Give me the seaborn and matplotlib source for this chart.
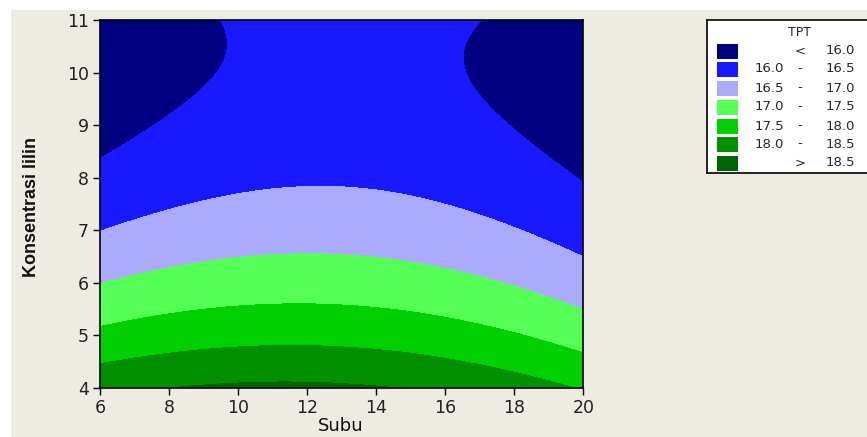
import numpy as np
import pandas as pd
import matplotlib
matplotlib.use("Agg")
import matplotlib.pyplot as plt
from matplotlib.patches import Rectangle
import seaborn as sns

subu_160 = [6.0, 6.68, 7.64, 8.61, 9.38, 9.65, 9.48,
            16.81, 16.43, 16.62, 17.3, 18.26, 19.23, 20.0]
kons_160 = [8.37, 8.65, 9.02, 9.48, 9.99, 10.62, 11.0,
            11.0, 10.37, 9.92, 9.35, 8.84, 8.40, 7.92]
subu_165 = [6.0, 7.64, 9.0, 10.06, 12.48, 14.11, 15.85, 17.78, 20.0]
kons_165 = [6.97, 7.33, 7.58, 7.72, 7.86, 7.77, 7.51, 7.07, 6.53]
subu_170 = [6.0, 7.64, 10.06, 11.5, 12.95, 14.88, 16.81, 18.74, 20.0]
kons_170 = [5.96, 6.24, 6.50, 6.56, 6.56, 6.40, 6.05, 5.74, 5.52]
subu_175 = [6.0, 7.64, 10.06, 11.5, 12.95, 14.88, 16.81, 18.74, 20.0]
kons_175 = [5.15, 5.39, 5.58, 5.61, 5.59, 5.45, 5.23, 4.91, 4.69]
subu_180 = [6.0, 7.64, 10.06, 11.5, 12.95, 14.88, 16.81, 18.74, 20.0]
kons_180 = [4.44, 4.63, 4.75, 4.80, 4.80, 4.66, 4.44, 4.15, 3.96]
subu_185 = [7.54, 10.06, 11.99, 15.4]
kons_185 = [4.0, 4.10, 4.10, 4.0]

levels = [16.0, 16.5, 17.0, 17.5, 18.0, 18.5]
band_colors = ["#000080", "#1919FF", "#AAAAFF", "#55FF55",
               "#00D000", "#009000", "#006400"]
legend_low = ["", "16.0", "16.5", "17.0", "17.5", "18.0", ""]
legend_mid = ["<", "-", "-", "-", "-", "-", ">"]
legend_high = ["16.0", "16.5", "17.0", "17.5", "18.0", "18.5", "18.5"]

# collect readings into a table and fit the quadratic response surface
pts = pd.concat([
    pd.DataFrame({"subu": sx, "kons": ky, "tpt": lv})
    for sx, ky, lv in zip([subu_160, subu_165, subu_170, subu_175, subu_180, subu_185],
                          [kons_160, kons_165, kons_170, kons_175, kons_180, kons_185],
                          levels)
])
X = np.column_stack([np.ones(len(pts)), pts.subu, pts.kons,
                     pts.subu ** 2, pts.kons ** 2, pts.subu * pts.kons])
coef, *_ = np.linalg.lstsq(X, pts.tpt.values, rcond=None)

gx, gy = np.meshgrid(np.linspace(6, 20, 300), np.linspace(4, 11, 300))
gz = (coef[0] + coef[1] * gx + coef[2] * gy + coef[3] * gx ** 2
      + coef[4] * gy ** 2 + coef[5] * gx * gy)

sns.set_style("ticks")
plt.rcParams["font.family"] = ["DejaVu Sans"]

bg = "#EEEBE2"
fig = plt.figure(figsize=(8.67, 4.37), dpi=100, facecolor=bg)
W, H = 867, 437
# white strips at top and left edge
fig.patches.append(Rectangle((0, 1 - 10 / H), 1, 10 / H, transform=fig.transFigure,
                             facecolor="white", edgecolor="none", zorder=0))
fig.patches.append(Rectangle((0, 0), 11 / W, 1, transform=fig.transFigure,
                             facecolor="white", edgecolor="none", zorder=0))

ax = fig.add_axes([100 / W, 1 - 388 / H, 483.3 / W, 368 / H])
ax.contourf(gx, gy, gz, levels=[-1000] + levels + [1000], colors=band_colors,
            antialiased=False)
ax.set_xlim(6, 20)
ax.set_ylim(4, 11)
ax.set_xticks(range(6, 21, 2))
ax.set_yticks(range(4, 12))
ax.tick_params(length=5, width=1, color="black", labelsize=12.5, pad=3,
               labelcolor="#222222")
for s in ax.spines.values():
    s.set_visible(True)
    s.set_color("black")
    s.set_linewidth(1.2)

fig.text(32 / W, 1 - 207 / H, "Konsentrasi lilin", rotation=90, ha="center",
         va="center", fontsize=13, fontweight="bold",
         family=["Liberation Sans", "DejaVu Sans"], color="#111111")
fig.text(341 / W, 1 - 435 / H, "Subu", ha="center", va="bottom", fontsize=13,
         color="#111111")

# legend box
lax = fig.add_axes([707 / W, 1 - 173 / H, 170 / W, 153 / H])
lax.set_xlim(0, 170)
lax.set_ylim(153, 0)
lax.set_facecolor("white")
lax.set_xticks([])
lax.set_yticks([])
for s in lax.spines.values():
    s.set_color("black")
    s.set_linewidth(1.2)
lax.text(93, 13, "TPT", ha="center", va="center", fontsize=9)
row_y = [31, 49, 68, 87, 106, 124, 143]
for i, yy in enumerate(row_y):
    lax.add_patch(Rectangle((10, yy - 7.5), 21, 15, facecolor=band_colors[i],
                            edgecolor="none"))
    lax.text(77, yy, legend_low[i], ha="right", va="center", fontsize=9.5)
    lax.text(93, yy, legend_mid[i], ha="center", va="center", fontsize=9.5)
    lax.text(148, yy, legend_high[i], ha="right", va="center", fontsize=9.5)

fig.savefig("out.png", dpi=100, facecolor=fig.get_facecolor())
